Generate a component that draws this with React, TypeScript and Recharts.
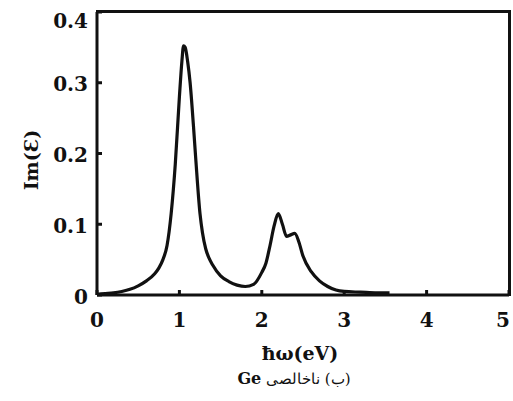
import { LineChart, Line, XAxis, YAxis, Label } from 'recharts';

// photon energy (eV) and Im(ε)
const energy = [
  0, 0.1, 0.2, 0.3, 0.4, 0.5, 0.6, 0.7, 0.75, 0.8, 0.85, 0.9, 0.95, 1.0, 1.03,
  1.05, 1.07, 1.1, 1.13, 1.17, 1.2, 1.25, 1.28, 1.32, 1.36, 1.4, 1.5, 1.6, 1.7,
  1.8, 1.9, 2.0, 2.05, 2.1, 2.15, 2.2, 2.25, 2.3, 2.35, 2.4, 2.45, 2.5, 2.6,
  2.7, 2.8, 2.9, 3.0, 3.2, 3.4, 3.55,
];
const imEps = [
  0.001, 0.002, 0.003, 0.005, 0.008, 0.013, 0.02, 0.03, 0.038, 0.05, 0.07,
  0.115, 0.185, 0.28, 0.33, 0.352, 0.35, 0.33, 0.3, 0.24, 0.19, 0.115, 0.088,
  0.065, 0.052, 0.043, 0.027, 0.019, 0.014, 0.012, 0.015, 0.032, 0.045, 0.07,
  0.098, 0.115, 0.1, 0.083, 0.085, 0.087, 0.075, 0.055, 0.033, 0.02, 0.012,
  0.007, 0.005, 0.004, 0.003, 0.003,
];
const xTicks = [0, 1, 2, 3, 4, 5];
const yTicks = [0, 0.1, 0.2, 0.3, 0.4];

const data = energy.map((e, i) => ({ e, v: imEps[i] }));

const FONT = '"DejaVu Serif", "Liberation Serif", serif';

const YTick = (props: any) => {
  const { x, y, payload } = props;
  const shift = payload.value === 0.4 ? 10 : 3;
  return (
    <text
      x={x}
      y={y + shift}
      textAnchor="end"
      dominantBaseline="middle"
      fontFamily={FONT}
      fontWeight="bold"
      fontSize={20}
      fill="#111"
    >
      {payload.value}
    </text>
  );
};

const XTick = (props: any) => {
  const { x, y, payload } = props;
  const shift = payload.value === 5 ? -6 : 0;
  return (
    <text
      x={x + shift}
      y={y + 14}
      textAnchor="middle"
      fontFamily={FONT}
      fontWeight="bold"
      fontSize={20}
      fill="#111"
    >
      {payload.value}
    </text>
  );
};

export default function App() {
  return (
    <div style={{ position: 'absolute', left: 0, top: 0, width: 513, height: 401, background: '#fff' }}>
      <LineChart
        width={513}
        height={401}
        data={data}
        margin={{ top: 12, right: 4, bottom: 76, left: 0 }}
      >
        <XAxis
          dataKey="e"
          type="number"
          domain={[0, 5]}
          ticks={xTicks}
          height={30}
          stroke="#111"
          strokeWidth={3}
          tickSize={-5}
          tickMargin={23}
          tick={<XTick />}
        >
          <Label
            content={() => (
              <text
                x={300}
                y={360}
                textAnchor="middle"
                fontFamily={FONT}
                fontWeight="bold"
                fontSize={19}
                fill="#111"
              >
                ħω(eV)
              </text>
            )}
          />
        </XAxis>
        <YAxis
          type="number"
          domain={[0, 0.4]}
          ticks={yTicks}
          width={97}
          stroke="#111"
          strokeWidth={3}
          tickSize={-5}
          tickMargin={14}
          tick={<YTick />}
        >
          <Label
            content={() => (
              <text
                x={38}
                y={160}
                transform="rotate(-90 38 160)"
                textAnchor="middle"
                fontFamily={FONT}
                fontWeight="bold"
                fontSize={19}
                fill="#111"
              >
                Im(Ɛ)
              </text>
            )}
          />
        </YAxis>
        <Line
          dataKey="v"
          type="monotone"
          stroke="#111"
          strokeWidth={3.2}
          dot={false}
          isAnimationActive={false}
        />
      </LineChart>
      {/* top and right edges of the plot frame */}
      <div
        style={{
          position: 'absolute',
          left: 96,
          top: 10,
          width: 415,
          height: 286,
          boxSizing: 'border-box',
          borderTop: '3px solid #111',
          borderRight: '3px solid #111',
          pointerEvents: 'none',
        }}
      />
      <div
        dir="rtl"
        style={{
          position: 'absolute',
          left: 194,
          top: 369,
          width: 200,
          textAlign: 'center',
          fontFamily: FONT,
          fontSize: 15,
          color: '#111',
        }}
      >
        (ب) ناخالصی <b style={{ fontSize: 16 }}>Ge</b>
      </div>
    </div>
  );
}
